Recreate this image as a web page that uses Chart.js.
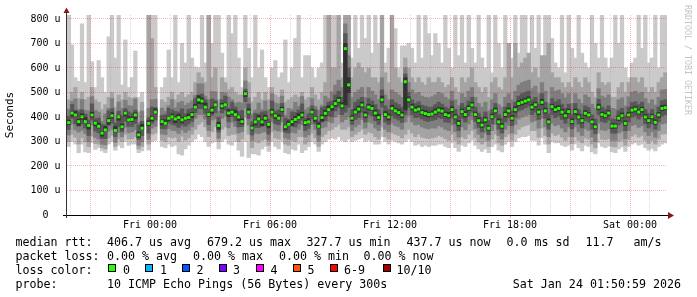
<!DOCTYPE html>
<html>
<head>
<meta charset="utf-8">
<script src="https://cdn.jsdelivr.net/npm/chart.js@4.4.1/dist/chart.umd.min.js"></script>
<style>
  html, body { margin: 0; padding: 0; background: #fff; }
  canvas { display: block; }
</style>
</head>
<body>
<canvas id="smoke" width="697" height="297"></canvas>
<script>
// 180 samples, 10 minutes apart, hours relative to Fri 00:00
const startHour = -4.0667;
const stepHours = 1 / 6;

// median rtt per sample (us)
const median = [
  377,416,408,381,401,381,365,408,375,362, 334,347,385,405,345,401,360,416,388,390,
  408,327,354,null,374,395,420,null,381,374, 395,401,392,398,388,395,398,410,440,470,
  465,440,410,428,450,365,445,450,416,420, 410,400,381,495,420,355,380,392,380,395,
  370,420,405,395,430,360,370,381,390,398, 408,377,380,420,395,362,398,415,430,442,
  455,468,445,679,531,395,420,432,449,408, 440,435,416,398,470,410,400,435,425,418,
  408,544,470,440,428,432,418,414,410,412, 420,428,424,410,405,430,400,374,422,410,
  435,449,410,385,367,388,354,401,425,380, 362,410,425,395,430,455,460,465,470,440,
  450,420,460,425,380,442,430,435,420,405, 422,381,422,400,385,415,408,380,360,440,
  410,405,416,363,363,395,405,374,408,428, 432,420,430,400,385,401,378,408,435,438
];

// sorted pings per sample (us), ping1 = fastest, ping10 = slowest
const ping1 = [
  280,300,290,255,290,258,255,296,268,275, 262,255,290,300,265,285,275,300,285,290,
  290,255,262,null,265,300,305,null,280,275, 290,280,285,250,245,270,285,300,310,330,
  320,300,280,295,300,270,300,310,290,285, 300,265,240,300,235,250,250,245,270,280,
  260,300,280,270,300,255,250,270,265,290, 255,265,280,300,290,260,290,300,310,315,
  310,320,305,300,310,300,305,310,315,300, 305,300,290,290,320,300,290,305,300,295,
  290,300,310,300,285,290,280,285,280,285, 285,290,290,280,275,295,275,260,285,280,
  295,305,285,270,260,270,255,280,290,265, 258,290,300,280,300,315,320,320,325,305,
  305,285,315,290,255,300,295,295,285,280, 285,265,290,275,262,285,280,258,250,295,
  280,275,282,258,255,270,278,260,280,290, 295,285,290,275,265,272,262,280,290,295
];
const ping2 = [
  300,330,318,290,316,298,280,322,292,290, 275,270,315,325,280,310,300,330,310,312,
  320,270,280,null,290,330,335,null,305,300, 320,315,318,300,322,305,315,330,350,370,
  380,360,320,340,360,300,350,360,325,330, 330,300,310,400,330,275,300,295,305,310,
  285,340,315,310,340,290,285,305,300,320, 320,290,300,335,315,280,320,330,345,350,
  360,370,350,350,360,320,330,340,350,330, 340,335,320,310,360,320,310,335,330,325,
  315,330,350,335,320,330,318,315,312,315, 318,325,320,312,305,330,305,290,320,312,
  330,345,315,298,290,300,280,310,330,295, 285,320,330,305,330,350,360,365,370,345,
  345,318,355,325,290,335,325,330,318,305, 320,292,320,305,295,315,310,290,275,335,
  310,308,312,280,278,300,305,285,308,322, 330,318,325,305,292,305,290,310,330,332
];
const ping3 = [
  327,371,348,339,346,333,300,368,317,310, 289,287,343,350,297,336,320,358,336,340,
  348,285,299,null,309,355,362,null,331,329, 353,346,344,333,348,337,346,360,395,410,
  410,392,345,388,392,313,395,405,356,378, 362,335,341,437,368,305,335,332,338,340,
  305,380,347,343,380,315,310,339,335,350, 368,319,328,370,350,302,356,360,382,377,
  400,410,380,390,400,345,360,370,390,355, 380,375,355,345,410,350,340,375,365,360,
  350,380,405,380,368,370,360,355,352,356, 355,365,360,350,345,368,340,318,360,348,
  372,390,352,330,315,335,305,345,370,325, 310,350,365,335,370,392,400,405,410,380,
  385,355,395,360,320,375,365,370,355,340, 360,320,360,340,325,352,345,318,300,375,
  348,345,352,305,305,335,342,312,345,365, 370,358,365,340,325,340,318,345,372,375
];
const ping4 = [
  349,394,373,363,371,356,325,388,343,336, 312,312,367,375,320,361,340,384,362,362,
  373,309,324,null,334,375,388,null,353,352, 377,371,367,358,368,363,372,382,418,435,
  435,415,370,408,418,339,417,428,381,402, 385,360,361,463,394,327,358,357,362,365,
  330,400,373,369,402,338,335,363,360,373, 388,345,354,392,373,327,380,385,405,402,
  425,440,410,420,440,370,390,398,420,380, 410,405,385,370,440,380,370,405,395,388,
  378,410,440,410,398,400,392,385,382,386, 390,398,394,380,378,398,372,345,395,380,
  405,420,382,358,340,360,328,372,398,350, 335,380,398,365,400,425,430,438,445,410,
  420,390,430,395,350,410,398,405,390,375, 395,352,392,372,356,386,380,350,332,410,
  382,378,388,335,334,368,376,345,380,400, 405,392,402,372,356,372,350,380,405,410
];
const ping5 = [
  369,404,402,366,391,376,351,399,364,355, 322,341,370,395,340,387,351,405,381,382,
  393,317,349,null,365,384,413,null,369,368, 385,396,378,389,377,388,390,398,434,455,
  454,433,402,416,444,350,435,445,402,411, 405,386,372,484,413,347,368,386,365,385,
  356,411,394,388,422,348,364,366,380,393, 399,366,373,412,383,356,383,405,425,428,
  445,460,436,450,500,386,412,420,440,398, 430,428,405,390,460,402,388,428,416,408,
  398,430,460,430,420,424,410,404,400,404, 410,420,414,402,396,420,392,364,414,400,
  426,440,402,376,358,378,346,392,416,372, 354,400,416,386,420,446,450,455,462,430,
  440,410,450,416,372,432,420,426,412,396, 414,372,412,392,376,406,400,372,352,430,
  402,396,406,354,355,386,396,366,400,420, 424,412,420,392,376,392,370,398,426,430
];
const ping6 = [
  387,423,422,390,413,397,371,419,383,375, 341,361,394,417,361,407,371,424,401,400,
  417,339,370,null,385,403,433,null,388,388, 401,412,400,411,398,402,412,419,452,486,
  477,456,416,439,458,378,455,457,430,429, 426,406,392,503,433,365,387,406,389,407,
  376,431,413,408,440,367,384,390,402,414, 419,385,393,430,402,376,407,427,446,448,
  466,480,458,700,560,405,432,445,460,420, 452,446,428,410,485,422,412,448,436,430,
  420,560,482,452,440,444,428,426,420,424, 432,438,436,420,418,442,410,386,432,422,
  446,460,420,396,378,398,364,412,436,392, 372,420,436,406,442,466,472,476,482,452,
  460,430,472,436,392,452,442,446,430,416, 432,392,432,410,394,426,418,390,370,452,
  420,414,426,372,372,404,416,384,418,438, 442,430,440,410,394,410,388,418,446,448
];
const ping7 = [
  402,451,428,421,429,411,387,453,393,395, 369,367,425,433,375,423,405,434,421,415,
  428,367,382,null,396,440,438,null,406,409, 435,429,422,420,433,413,431,435,475,490,
  493,470,432,473,468,398,470,485,436,460, 440,422,426,513,453,380,415,412,420,423,
  392,465,423,428,455,395,390,421,418,428, 453,395,413,445,430,382,438,443,460,464,
  490,505,480,740,600,430,460,470,480,440, 475,465,450,430,510,445,430,470,458,450,
  440,575,500,470,455,462,448,444,440,440, 450,460,452,440,434,465,430,405,455,440,
  465,480,440,415,398,420,385,430,455,410, 395,440,455,425,460,485,495,500,505,470,
  480,452,495,460,412,475,462,470,452,435, 452,410,455,430,412,445,438,408,392,472,
  440,432,445,392,390,425,435,404,440,458, 462,450,460,430,414,430,406,440,466,470
];
const ping8 = [
  432,464,473,431,471,426,425,483,427,420, 382,412,435,475,390,461,435,468,446,445,
  473,377,424,null,434,470,472,null,436,422, 445,471,437,458,463,447,456,465,488,535,
  535,485,470,503,502,423,500,498,481,470, 455,460,456,547,478,410,428,457,430,465,
  430,495,457,453,485,408,435,431,460,443, 483,429,438,475,443,427,448,485,475,502,
  530,550,520,780,650,480,500,510,520,480, 520,505,490,470,560,490,470,510,500,490,
  480,600,540,510,495,500,485,480,478,482, 490,500,495,480,472,505,470,445,495,480,
  505,520,480,455,440,460,425,470,495,450, 440,480,495,470,505,530,540,545,550,515,
  525,495,540,505,455,520,505,510,495,478, 495,455,495,472,455,490,480,452,435,515,
  485,478,490,435,432,470,478,445,482,500, 505,495,500,475,455,470,448,480,510,512
];
const ping9 = [
  470,500,520,475,500,470,480,520,470,460, 430,450,480,500,440,490,470,500,480,475,
  480,420,460,null,900,720,520,null,470,460, 480,500,470,490,500,480,490,500,540,580,
  560,540,900,560,600,470,560,540,510,520, 500,490,490,600,540,460,480,500,470,500,
  470,520,490,480,510,460,470,480,490,480, 500,470,480,520,490,470,500,540,900,600,
  600,900,560,900,900,560,600,620,600,580, 600,560,560,540,900,580,540,900,600,560,
  540,640,600,560,540,560,540,530,560,540, 540,560,540,520,530,560,520,500,560,540,
  560,600,540,520,500,520,480,540,560,520, 510,560,700,560,700,600,620,640,660,580,
  600,560,650,650,700,580,560,560,540,520, 540,520,560,540,520,560,540,500,480,580,
  540,530,540,480,480,520,540,500,540,560, 560,540,560,520,500,520,500,540,560,580
];
const ping10 = [
  900,694,560,545,780,540,900,625,520,630, 560,500,727,900,640,900,530,714,520,560,
  669,480,500,null,900,900,900,null,520,560, 673,560,900,540,700,620,900,640,604,600,
  900,620,900,700,900,900,660,560,900,740, 900,640,520,900,680,560,900,600,673,560,
  520,600,630,560,580,714,540,600,720,900, 560,650,650,600,560,600,620,900,700,900,
  900,900,620,900,900,640,900,680,900,720, 900,660,900,700,900,620,680,900,760,600,
  690,690,700,680,620,900,640,900,740,650, 740,700,620,900,680,600,900,650,900,620,
  900,680,620,900,640,600,900,580,900,700, 600,900,700,640,900,660,900,900,640,900,
  680,900,640,900,900,720,620,600,900,580, 900,680,640,900,660,620,600,900,700,640,
  900,640,600,640,900,700,900,600,560,620, 640,900,680,900,620,640,900,600,900,900
];

// axis ticks
const gridHours = [-4,-3,-2,-1,0,1,2,3,4,5,6,7,8,9,10,11,12,13,14,15,16,17,18,19,20,21,22,23,24,25];
const labelHours = [0, 6, 12, 18, 24];
const labelTexts = ['Fri 00:00', 'Fri 06:00', 'Fri 12:00', 'Fri 18:00', 'Sat 00:00'];
const yGrid = [0,50,100,150,200,250,300,350,400,450,500,550,600,650,700,750,800];

// legend texts
const rttStats = ['406.7 us avg', '679.2 us max', '327.7 us min', '437.7 us now', '0.0 ms sd', '11.7', 'am/s'];
const lossStats = ['0.00 % avg', '0.00 % max', '0.00 % min', '0.00 % now'];
const lossNames = ['0', '1', '2', '3', '4', '5', '6-9', '10/10'];
const lossColors = ['#26ff00', '#00b8ff', '#0059ff', '#7e00ff', '#ff00ff', '#ff5500', '#ff0000', '#a10000'];

const MONO = '"DejaVu Sans Mono", monospace';
const MAJOR = 'rgba(225,0,0,0.28)';
const MINOR = 'rgba(150,150,150,0.35)';

const times = median.map((_, i) => startHour + i * stepHours);

function band(lo, hi) {
  const out = [];
  times.forEach((t, i) => {
    if (lo[i] !== null) out.push({ x: t, y: [lo[i], hi[i]] });
  });
  return out;
}

const bands = [
  [ping1, ping10, '#cacaca'],
  [ping2, ping9, '#a4a4a4'],
  [ping3, ping8, '#7e7e7e'],
  [ping4, ping7, '#585858'],
  [ping5, ping6, '#323232']
];

const datasets = bands.map((b, k) => ({
  data: band(b[0], b[1]),
  backgroundColor: b[2],
  order: 10 - k,
  grouped: false,
  barPercentage: 1,
  categoryPercentage: 1,
  inflateAmount: 0.45,
  clip: 0
}));

const medLo = median.map(v => (v === null ? null : v - 6));
const medHi = median.map(v => (v === null ? null : v + 6));
datasets.push({
  data: band(medLo, medHi),
  backgroundColor: lossColors[0],
  order: 0,
  grouped: false,
  barPercentage: 0.9,
  categoryPercentage: 1,
  inflateAmount: 0,
  clip: 0
});

const decorations = {
  id: 'decorations',
  afterDraw(chart) {
    const ctx = chart.ctx;
    ctx.save();

    // axes and arrows
    ctx.fillStyle = '#000';
    ctx.fillRect(63, 215, 607, 1);
    ctx.fillStyle = '#333';
    ctx.fillRect(66, 11, 1, 207);
    ctx.fillStyle = '#8c1515';
    ctx.beginPath();
    ctx.moveTo(63.5, 13); ctx.lineTo(66.5, 7.5); ctx.lineTo(69.5, 13); ctx.closePath();
    ctx.fill();
    ctx.beginPath();
    ctx.moveTo(668, 212); ctx.lineTo(674, 215.5); ctx.lineTo(668, 219); ctx.closePath();
    ctx.fill();

    // watermark
    ctx.save();
    ctx.translate(687.5, 5);
    ctx.rotate(Math.PI / 2);
    ctx.font = '8.3px ' + MONO;
    ctx.fillStyle = '#c4c4c4';
    ctx.textBaseline = 'middle';
    ctx.fillText('RRDTOOL / TOBI OETIKER', 0, 0);
    ctx.restore();

    // legend
    ctx.font = '11.65px ' + MONO;
    ctx.fillStyle = '#000';
    ctx.textBaseline = 'alphabetic';
    ctx.fillText('median rtt:', 15.5, 246);
    [107, 207, 306.5, 406.5, 506.5, 585.5, 633.5].forEach((x, i) => ctx.fillText(rttStats[i], x, 246));
    ctx.fillText('packet loss:', 15.5, 260);
    [107, 193, 279, 363.5].forEach((x, i) => ctx.fillText(lossStats[i], x, 260));
    ctx.fillText('loss color:', 15.5, 274);
    const boxX = [108, 145, 182, 219, 256, 293, 330, 383];
    const nameX = [123, 160, 196.5, 233, 270.5, 307.5, 344, 396.5];
    boxX.forEach((x, i) => {
      ctx.fillStyle = '#000';
      ctx.fillRect(x, 264, 8, 8);
      ctx.fillStyle = lossColors[i];
      ctx.fillRect(x + 1, 265, 6, 6);
      ctx.fillStyle = '#000';
      ctx.fillText(lossNames[i], nameX[i], 274);
    });
    ctx.fillText('probe:', 15.5, 288);
    ctx.fillText('10 ICMP Echo Pings (56 Bytes) every 300s', 107, 288);
    ctx.textAlign = 'right';
    ctx.fillText('Sat Jan 24 01:50:59 2026', 681, 288);

    ctx.restore();
  }
};

new Chart(document.getElementById('smoke').getContext('2d'), {
  type: 'bar',
  data: { datasets },
  options: {
    responsive: false,
    animation: false,
    devicePixelRatio: 1,
    layout: { padding: { top: 15, right: 30, left: 0, bottom: 0 } },
    plugins: { legend: { display: false }, tooltip: { enabled: false } },
    scales: {
      x: {
        type: 'linear',
        min: -4.15,
        max: 25.85,
        offset: false,
        afterBuildTicks: s => { s.ticks = gridHours.map(v => ({ value: v })); },
        afterFit: s => { s.height = 82; },
        grid: {
          z: 1,
          offset: false,
          color: c => (c.tick.value % 3 === 0 ? MAJOR : MINOR),
          tickColor: c => (c.tick.value % 3 === 0 ? MAJOR : 'rgba(0,0,0,0)'),
          tickLength: 3
        },
        border: { display: false, dash: [1, 1] },
        ticks: {
          autoSkip: false,
          maxRotation: 0,
          padding: 1,
          color: '#000',
          font: { family: MONO, size: 10 },
          callback: v => {
            const k = labelHours.indexOf(v);
            return k < 0 ? '' : labelTexts[k];
          }
        }
      },
      y: {
        min: 0,
        max: 816.3,
        afterBuildTicks: s => { s.ticks = yGrid.map(v => ({ value: v })); },
        afterFit: s => { s.width = 67; },
        grid: {
          z: 1,
          color: c => (c.tick.value % 100 === 0 ? MAJOR : MINOR),
          drawTicks: false
        },
        border: { display: false, dash: [1, 1] },
        ticks: {
          padding: 6.5,
          color: '#000',
          font: { family: MONO, size: 10 },
          callback: v => (v % 100 ? '' : (v === 0 ? '0  ' : v + ' u'))
        },
        title: {
          display: true,
          text: 'Seconds',
          color: '#000',
          font: { family: MONO, size: 11 },
          padding: { top: 4, bottom: 0 }
        }
      }
    }
  },
  plugins: [decorations]
});
</script>
</body>
</html>
